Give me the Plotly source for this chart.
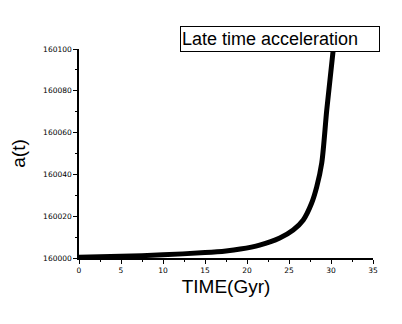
import plotly.graph_objects as go

# time in Gyr and scale factor
time_gyr = [0, 5, 10, 15, 17.5, 19.2, 21.5, 23.9, 25.5, 26.7, 27.7, 28.3, 28.9, 29.5, 30.3]
a_t = [160000.3, 160000.8, 160001.5, 160002.6, 160003.4, 160004.3, 160006.2, 160009.6,
       160013.4, 160018.2, 160026.3, 160034.0, 160045.5, 160071.0, 160101.0]

fig = go.Figure()
fig.add_trace(go.Scatter(
    x=time_gyr, y=a_t, mode='lines',
    line=dict(color='black', width=5, shape='spline', smoothing=0.8),
    showlegend=False))

tickfont = dict(family='DejaVu Sans', size=7.5, color='black')

# page body adds an 8px offset, margins compensate for it
fig.update_layout(
    width=402, height=324,
    margin=dict(l=71, r=37, t=41, b=74),
    paper_bgcolor='white', plot_bgcolor='white',
    xaxis=dict(
        range=[0, 35], dtick=5, tick0=0, automargin=False,
        showline=True, linecolor='black', linewidth=1.5,
        ticks='outside', ticklen=4, tickwidth=1, tickcolor='black',
        minor=dict(ticks='outside', ticklen=2, dtick=2.5, tickcolor='black'),
        showgrid=False, zeroline=False, tickfont=tickfont,
        title=dict(text='TIME(Gyr)', font=dict(family='Liberation Sans, Arial', size=19, color='black'),
                   standoff=6)),
    yaxis=dict(
        range=[160000, 160100], dtick=20, tick0=160000, automargin=False,
        showline=True, linecolor='black', linewidth=1.5,
        ticks='outside', ticklen=4, tickwidth=1, tickcolor='black',
        minor=dict(ticks='outside', ticklen=2, dtick=10, tickcolor='black'),
        showgrid=False, zeroline=False, tickfont=tickfont, tickformat='d',
        title=dict(text='a(t)', font=dict(family='Liberation Sans, Arial', size=19, color='black'),
                   standoff=14)),
    annotations=[dict(
        text='Late time acceleration', xref='paper', yref='paper',
        x=0.345, y=1.0, xanchor='left', yanchor='bottom', yshift=-3,
        showarrow=False, align='left', width=196, height=22,
        font=dict(family='Liberation Sans, Arial', size=18, color='black'),
        bordercolor='black', borderwidth=1, borderpad=1, bgcolor='white')],
)

fig.write_html("out.html")
